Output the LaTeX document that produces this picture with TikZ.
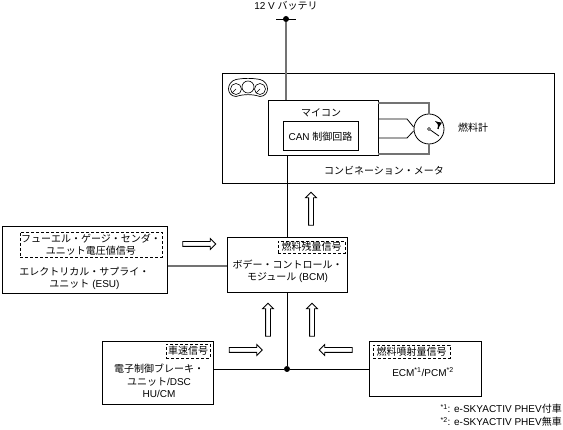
\documentclass[tikz,border=0pt]{standalone}
\usepackage{fontspec}
\setmainfont{Liberation Sans}
\newfontfamily\cjk{Noto Sans CJK JP}
\newcommand{\jp}[1]{{\cjk #1}}
\usetikzlibrary{shapes.arrows}

\begin{document}
\begin{tikzpicture}[
    x=1pt, y=-1pt,
    every node/.style={
        align=center,
        inner sep=0pt,
        font=\fontsize{10}{12.5}\selectfont
    },
    unitbox/.style={draw, line width=1pt, minimum width=#1},
    sigtag/.style={draw, densely dashed, line width=0.6pt, minimum width=#1},
    wire/.style={line width=0.8pt},
    greywire/.style={line width=1.1pt, draw=black!55},
    dot/.style={circle, fill=black, minimum size=6pt},
    sigarrow/.style={
        single arrow,
        draw,
        line width=0.8pt,
        inner sep=2pt,
        minimum height=33pt,
        single arrow head extend=3pt,
        single arrow tip angle=90,
        shape border rotate=#1
    }
]
\useasboundingbox (0,0) rectangle (563,430);

% Combination meter
\node[unitbox=332pt, minimum height=110pt] (meter) at (388,128.5) {};
\node[unitbox=110pt, minimum height=55pt] (mcu) at (323,128.5) {};
\node[unitbox=75pt, minimum height=29pt] (can) at (320.5,136.5) {};
\node (mcutext) at (321,113) {\jp{マイコン}};
\node (cantext) at (320.5,137) {CAN \jp{制御回路}};
\node (metertext) at (384,171) {\jp{コンビネーション・メータ}};
\node (gaugetext) at (473,128) {\jp{燃料計}};
\node (battext) at (286,6) {12 V \jp{バッテリ}};

% Gauge
\node[circle, draw, line width=0.8pt, minimum size=30pt] (gauge) at (429,129) {};
\node[circle, draw, line width=0.5pt, minimum size=3pt] (pivot) at (429,129) {};
\draw[line width=0.8pt] (pivot) -- (439,136);
\draw[line width=1.3pt, -latex] (438,129) .. controls (439,126) and (438,123) .. (435,121);
\draw[greywire] (378,103) -- (429,103) -- (gauge.north);
\draw[greywire] (378,154) -- (429,154) -- (gauge.south);
\draw[wire] (378,119) -- (407,119) -- (gauge.west |- 0,127);
\draw[wire] (378,138) -- (407,138) -- (gauge.west |- 0,131);

% Small meter icon
\draw[line width=0.7pt] (236,79.5) .. controls (244,78) and (252,78) .. (260,79.5)
    .. controls (270,82) and (270,96) .. (260,96.5)
    .. controls (252,94) and (244,94) .. (236,96.5)
    .. controls (226,96) and (226,82) .. (236,79.5) -- cycle;
\node[circle, draw, fill=white, line width=0.6pt, minimum size=12pt] (iconmid) at (248,87) {};
\node[circle, draw, fill=white, line width=0.6pt, minimum size=11pt] (iconleft) at (236,89) {};
\node[circle, draw, fill=white, line width=0.6pt, minimum size=11pt] (iconright) at (260,89) {};
\draw[line width=0.5pt] (iconleft.center) -- (iconleft.south west);
\draw[line width=0.5pt] (iconright.center) -- (iconright.south west);

% Battery feed
\node[dot] (bat) at (286,19) {};
\coordinate (batleft) at (276,19);
\coordinate (batright) at (296,19);
\draw[wire] (batleft) -- (batright);
\draw[greywire] (bat) -- (bat |- mcu.north);

% BCM
\node[unitbox=120pt, minimum height=55pt] (bcm) at (287,265.5) {};
\node[sigtag=67pt, minimum height=12pt] (fueltag) at (311.5,247) {\jp{燃料残量信号}};
\node (bcmtext) at (287.5,271.5) {\jp{ボデー・コントロール・}\\\jp{モジュール} (BCM)};

% ESU
\node[unitbox=165pt, minimum height=67pt] (esu) at (84.5,260.5) {};
\node[sigtag=142pt, minimum height=25pt] (esutag) at (91,244.5) {\jp{フューエル・ゲージ・センダ・}\\\jp{ユニット電圧値信号}};
\node (esutext) at (84.5,278.5) {\jp{エレクトリカル・サプライ・}\\\jp{ユニット} (ESU)};

% Brake unit
\node[unitbox=111pt, minimum height=63pt] (dsc) at (157.5,373.5) {};
\node[sigtag=44pt, minimum height=14pt] (speedtag) at (188,351) {\jp{車速信号}};
\node (dsctext) at (159,381) {\jp{電子制御ブレーキ・}\\\jp{ユニット}/DSC\\HU/CM};

% ECM
\node[unitbox=112pt, minimum height=55pt] (ecm) at (425,369.5) {};
\node[sigtag=77pt, minimum height=13pt] (injtag) at (411.5,351.5) {\jp{燃料噴射量信号}};
\node (ecmtext) at (423,372) {ECM\textsuperscript{*1}/PCM\textsuperscript{*2}};

% Connectors
\node[dot] (junction) at (287,369) {};
\draw[wire] (bcm.north) -- (bcm.north |- mcu.south);
\draw[greywire] (esu.east |- 0,266) -- (bcm.west |- 0,266);
\draw[wire] (bcm.south) -- (junction);
\draw[wire] (dsc.east |- junction) -- (junction);
\draw[wire] (ecm.west |- junction) -- (junction);

% Signal arrows
\node[sigarrow=90] (arrowmeter) at (311,210) {};
\node[sigarrow=0] (arrowesu) at (198,244) {};
\node[sigarrow=90] (arrowdsc) at (268,321) {};
\node[sigarrow=90] (arrowecm) at (312,321) {};
\node[sigarrow=0] (arrowspeed) at (244.5,350) {};
\node[sigarrow=180] (arrowinj) at (337,350) {};

% Footnotes
\node[anchor=east] (noteone) at (562,409) {\textsuperscript{*1}: e-SKYACTIV PHEV\jp{付車}};
\node[anchor=east] (notetwo) at (562,422) {\textsuperscript{*2}: e-SKYACTIV PHEV\jp{無車}};

\end{tikzpicture}
\end{document}
